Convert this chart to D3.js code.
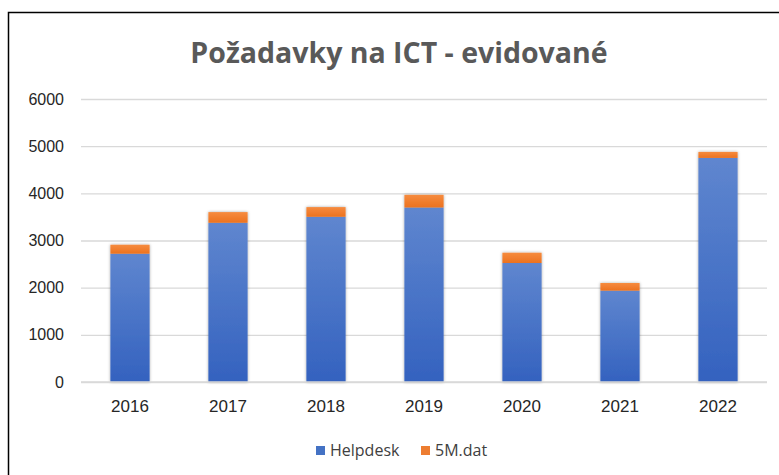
<!DOCTYPE html>
<html>
<head>
<meta charset="utf-8">
<script src="https://cdn.jsdelivr.net/npm/d3@7"></script>
<style>
  body { margin: 0; background: #fff; }
  svg { display: block; font-family: "Open Sans", "Noto Sans", sans-serif; }
</style>
</head>
<body>
<svg id="chart" width="779" height="475"></svg>
<script>
const years = ['2016', '2017', '2018', '2019', '2020', '2021', '2022'];
const helpdesk = [2720, 3376, 3503, 3700, 2523, 1937, 4751];
const mdat = [190, 226, 205, 268, 218, 162, 127];
const yTicks = [0, 1000, 2000, 3000, 4000, 5000, 6000];
const seriesNames = ['Helpdesk', '5M.dat'];

const svg = d3.select('#chart');
const margin = { left: 81, right: 12, top: 99, bottom: 93 };
const width = 779 - margin.left - margin.right;
const height = 475 - margin.top - margin.bottom;

// frame
svg.append('path')
    .attr('d', 'M8.5,475 V12.5 H779')
    .attr('fill', 'none')
    .attr('stroke', '#000')
    .attr('stroke-width', 1.5);

const defs = svg.append('defs');
function grad(id, top, bottom) {
    const g = defs.append('linearGradient').attr('id', id)
        .attr('x1', 0).attr('y1', 0).attr('x2', 0).attr('y2', 1);
    g.append('stop').attr('offset', '0%').attr('stop-color', top);
    g.append('stop').attr('offset', '100%').attr('stop-color', bottom);
}
grad('gBlue', '#5f86cf', '#3462bf');
grad('gOrange', '#f68b3e', '#ec7220');
const shadow = defs.append('filter').attr('id', 'shadow')
    .attr('x', '-20%').attr('y', '-5%').attr('width', '140%').attr('height', '110%');
shadow.append('feDropShadow').attr('dx', 0).attr('dy', 0).attr('stdDeviation', 1.5)
    .attr('flood-color', '#000').attr('flood-opacity', 0.35);

svg.append('text')
    .text('Požadavky na ICT - evidované')
    .attr('x', 399)
    .attr('y', 63)
    .attr('text-anchor', 'middle')
    .attr('font-size', 28.5)
    .attr('font-weight', 'bold')
    .attr('fill', '#595959');

const g = svg.append('g').attr('transform', 'translate(' + margin.left + ',' + margin.top + ')');

const x = d3.scaleBand().domain(years).range([0, width]).paddingInner(0.6).paddingOuter(0.3);
const y = d3.scaleLinear().domain([0, 6000]).range([height, 0]);

const yAxis = g.append('g').attr('class', 'y axis')
    .call(d3.axisLeft(y).tickValues(yTicks).tickFormat(d3.format('d')).tickSizeInner(-width).tickSizeOuter(0).tickPadding(17));
yAxis.select('.domain').remove();
yAxis.selectAll('.tick line').attr('stroke', '#d9d9d9').attr('stroke-width', 1.3);
yAxis.selectAll('.tick text').attr('font-size', 16).attr('fill', '#262626').attr('font-family', 'inherit');

const xAxis = g.append('g').attr('class', 'x axis')
    .attr('transform', 'translate(0,' + height + ')')
    .call(d3.axisBottom(x).tickSize(0).tickPadding(18));
xAxis.select('.domain').remove();
xAxis.selectAll('.tick text').attr('font-size', 17).attr('fill', '#262626').attr('font-family', 'inherit');

const data = years.map((d, i) => ({ year: d, a: helpdesk[i], b: mdat[i] }));

const bars = g.append('g').attr('class', 'bars');
bars.selectAll('g.bar')
    .data(data)
    .enter()
    .append('g')
    .attr('class', 'bar')
    .attr('filter', 'url(#shadow)')
    .each(function (d) {
        const el = d3.select(this);
        el.append('rect')
            .attr('x', x(d.year))
            .attr('width', x.bandwidth())
            .attr('y', y(d.a))
            .attr('height', y(0) - y(d.a))
            .attr('fill', 'url(#gBlue)');
        el.append('rect')
            .attr('x', x(d.year))
            .attr('width', x.bandwidth())
            .attr('y', y(d.a + d.b))
            .attr('height', y(d.a) - y(d.a + d.b))
            .attr('fill', 'url(#gOrange)');
    });

// baseline
g.append('line')
    .attr('x1', 0).attr('x2', width)
    .attr('y1', y(0)).attr('y2', y(0))
    .attr('stroke', '#d9d9d9').attr('stroke-width', 1.3);

// legend
const legend = svg.append('g').attr('class', 'legend');
const legendX = [316, 421];
const legendColors = ['#4472c4', '#ed7d31'];
seriesNames.forEach((name, i) => {
    legend.append('rect')
        .attr('x', legendX[i]).attr('y', 446)
        .attr('width', 9).attr('height', 9)
        .attr('fill', legendColors[i]);
    legend.append('text')
        .text(name)
        .attr('x', legendX[i] + 14).attr('y', 456)
        .attr('font-size', 16)
        .attr('fill', '#404040');
});
</script>
</body>
</html>
